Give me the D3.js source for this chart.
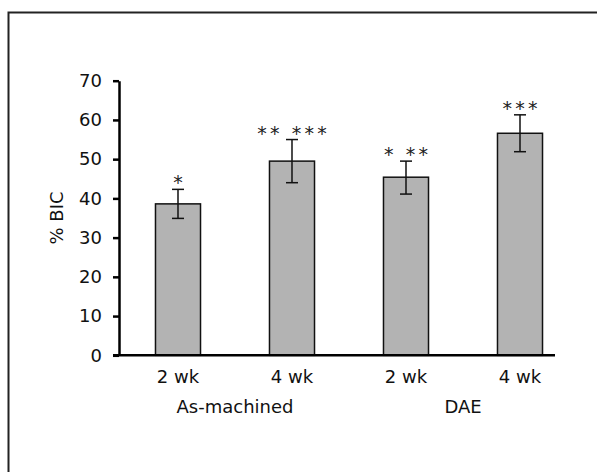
<!DOCTYPE html>
<html>
<head>
<meta charset="utf-8">
<title>% BIC</title>
<style>
	body { margin: 0; background: #fff; }
	svg text { font-family: "DejaVu Sans", Verdana, sans-serif; fill: #111; }
	.bar { fill: #b3b3b3; stroke: #111; stroke-width: 1.5px; }
	.err { stroke: #111; stroke-width: 1.5px; fill: none; }
	.axis path, .axis line { stroke: #000; stroke-width: 2.5px; }
</style>
<script src="https://cdn.jsdelivr.net/npm/d3@7"></script>
</head>
<body>
<svg id="chart" width="597" height="472"></svg>
<script>
// data
var groups = ["As-machined", "DAE"];
var categories = ["2 wk", "4 wk", "2 wk", "4 wk"];
var groupOf = [0, 0, 1, 1];
var values = [38.6, 49.5, 45.4, 56.6];
var errUp = [42.3, 55.0, 49.5, 61.3];
var errDown = [34.9, 44.0, 41.1, 51.9];
var marks = ["*", "** ***", "* **", "***"];
var yTicks = [0, 10, 20, 30, 40, 50, 60, 70];

var svg = d3.select("#chart");

// frame (only top/left edges show)
svg.append("rect")
	.attr("x", 8.5).attr("y", 12.5)
	.attr("width", 640).attr("height", 500)
	.attr("fill", "none").attr("stroke", "#222").attr("stroke-width", 2);

var x = d3.scaleBand()
	.domain(d3.range(categories.length))
	.range([119, 579])
	.paddingInner(0.605)
	.paddingOuter(0.32);

var y = d3.scaleLinear().domain([0, 70]).range([355.3, 80.7]);

// bars
svg.selectAll("rect.bar")
	.data(values)
	.enter()
	.append("rect")
	.attr("class", "bar")
	.attr("x", function(d, i){ return x(i); })
	.attr("y", function(d){ return y(d); })
	.attr("width", x.bandwidth())
	.attr("height", function(d){ return y(0) - y(d); });

// error bars
var cx = function(i){ return x(i) + x.bandwidth() / 2; };
var eb = svg.selectAll("g.eb")
	.data(values)
	.enter()
	.append("g");
eb.append("line").attr("class", "err")
	.attr("x1", function(d, i){ return cx(i); })
	.attr("x2", function(d, i){ return cx(i); })
	.attr("y1", function(d, i){ return y(errUp[i]); })
	.attr("y2", function(d, i){ return y(errDown[i]); });
eb.append("line").attr("class", "err")
	.attr("x1", function(d, i){ return cx(i) - 6; })
	.attr("x2", function(d, i){ return cx(i) + 6; })
	.attr("y1", function(d, i){ return y(errUp[i]); })
	.attr("y2", function(d, i){ return y(errUp[i]); });
eb.append("line").attr("class", "err")
	.attr("x1", function(d, i){ return cx(i) - 6; })
	.attr("x2", function(d, i){ return cx(i) + 6; })
	.attr("y1", function(d, i){ return y(errDown[i]); })
	.attr("y2", function(d, i){ return y(errDown[i]); });

// significance stars
var spacing = 3.2;
svg.selectAll("text.mark")
	.data(marks)
	.enter()
	.append("text")
	.attr("x", function(d, i){ return cx(i) + spacing / 2; })
	.attr("y", function(d, i){ return y(errUp[i]); })
	.attr("text-anchor", "middle")
	.style("font-size", "19px")
	.style("letter-spacing", spacing + "px")
	.style("fill", "#222")
	.text(function(d){ return d; });

// y axis
var yAxis = svg.append("g")
	.attr("class", "axis")
	.attr("transform", "translate(119,0)")
	.call(d3.axisLeft(y).tickValues(yTicks).tickSize(6).tickPadding(11).tickSizeOuter(0));
yAxis.selectAll("text").style("font-size", "18px").style("font-family", "DejaVu Sans, sans-serif");

// x axis line
svg.append("line")
	.attr("x1", 113).attr("x2", 555)
	.attr("y1", y(0)).attr("y2", y(0))
	.attr("stroke", "#000").attr("stroke-width", 2.5);

// category labels
svg.selectAll("text.cat")
	.data(categories)
	.enter()
	.append("text")
	.attr("x", function(d, i){ return cx(i); })
	.attr("y", 383)
	.attr("text-anchor", "middle")
	.style("font-size", "18px")
	.text(function(d){ return d; });

// group labels
svg.selectAll("text.grp")
	.data(groups)
	.enter()
	.append("text")
	.attr("x", function(d, g){
		var idx = d3.range(categories.length).filter(function(i){ return groupOf[i] === g; });
		return d3.mean(idx, cx);
	})
	.attr("y", 413)
	.attr("text-anchor", "middle")
	.style("font-size", "18px")
	.text(function(d){ return d; });

// y title
svg.append("text")
	.attr("transform", "translate(63," + ((y(0) + y(70)) / 2) + ") rotate(-90)")
	.attr("text-anchor", "middle")
	.style("font-size", "18px")
	.text("% BIC");
</script>
</body>
</html>
